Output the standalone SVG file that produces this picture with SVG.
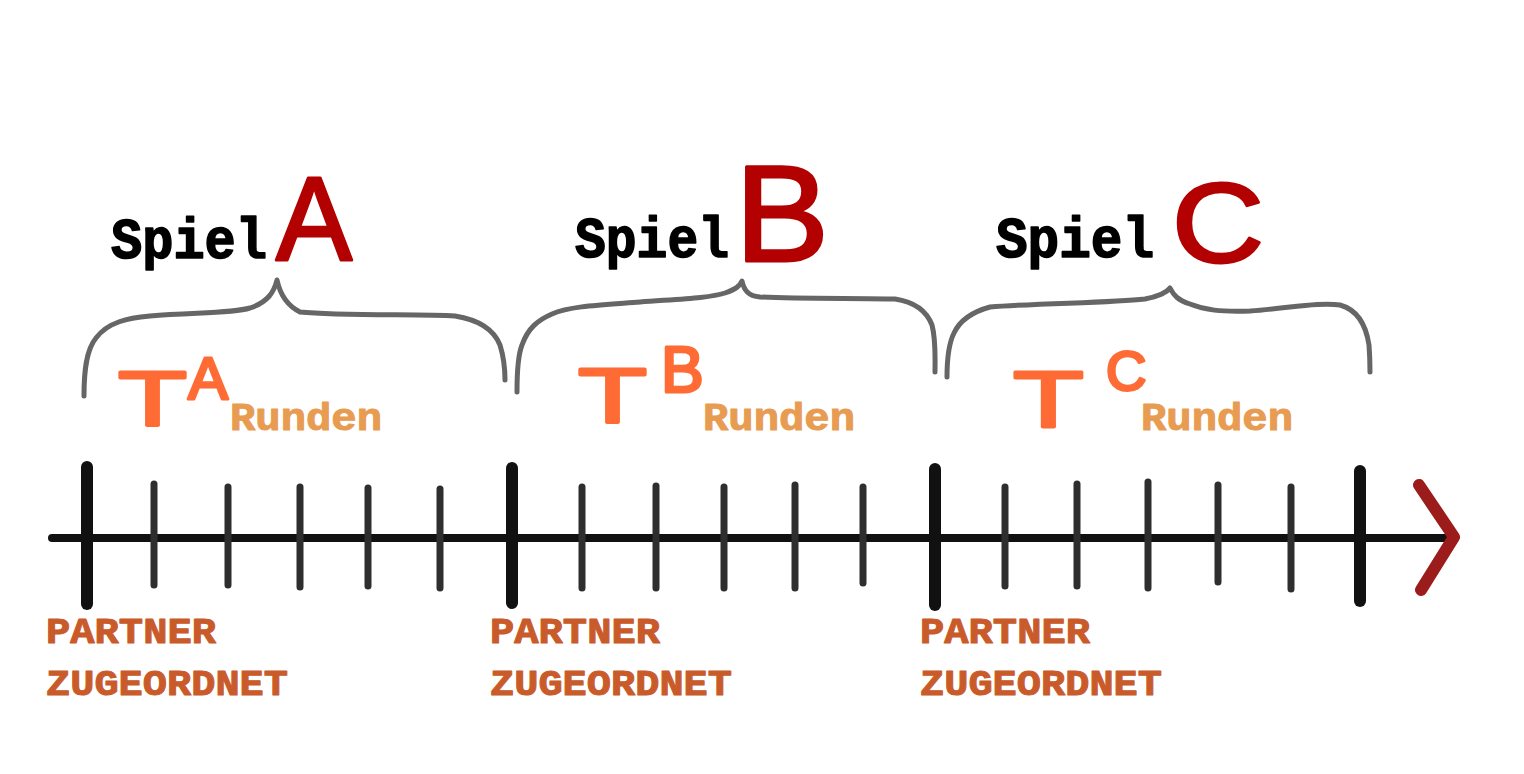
<svg xmlns="http://www.w3.org/2000/svg" width="1524" height="774" viewBox="0 0 1524 774">
<style>
.bg{fill:#ffffff}
.axis{stroke:#111;stroke-width:8;stroke-linecap:round;fill:none}
.major{stroke:#111;stroke-width:12;stroke-linecap:round}
.minor{stroke:#2e2e2e;stroke-width:7;stroke-linecap:round}
.arrow{stroke:#9c1b1b;stroke-width:12;stroke-linecap:round;stroke-linejoin:round;fill:none}
.brace{stroke:#666;stroke-width:5;stroke-linecap:round;stroke-linejoin:round;fill:none}
.spiel{font-family:"Liberation Mono","DejaVu Sans Mono",monospace;font-weight:bold;font-size:58px;fill:#000;stroke:#000;stroke-width:1.6;stroke-linejoin:round}
.big{font-family:"Liberation Sans","DejaVu Sans",sans-serif;fill:#b30000;stroke:#b30000;stroke-width:3;stroke-linejoin:round}
.t{font-family:"Liberation Sans","DejaVu Sans",sans-serif;fill:#ff6b35;stroke:#ff6b35;stroke-width:3;stroke-linejoin:round}
.runden{font-family:"Liberation Mono","DejaVu Sans Mono",monospace;font-weight:bold;font-size:38px;fill:#e89c52;stroke:#e89c52;stroke-width:1;stroke-linejoin:round}
.partner{font-family:"Liberation Mono","DejaVu Sans Mono",monospace;font-weight:bold;font-size:36px;fill:#c95b2b;stroke:#c95b2b;stroke-width:1;stroke-linejoin:round}
</style>
<rect class="bg" x="0" y="0" width="1524" height="774"/>

<g id="connectors">
  <line class="axis" x1="52" y1="538" x2="1448" y2="538"/>
  <polyline id="arrowhead" class="arrow" points="1419,485 1454,537 1421,590"/>
</g>

<g id="ticks">
  <line class="major" x1="87" y1="467" x2="87" y2="604"/>
  <line class="major" x1="512" y1="468" x2="512" y2="603"/>
  <line class="major" x1="935" y1="469" x2="935" y2="605"/>
  <line class="major" x1="1360" y1="471" x2="1360" y2="601"/>
  <line class="minor" x1="154" y1="484" x2="154" y2="585"/>
  <line class="minor" x1="228" y1="487" x2="228" y2="585"/>
  <line class="minor" x1="300" y1="487" x2="300" y2="587"/>
  <line class="minor" x1="368" y1="488" x2="368" y2="586"/>
  <line class="minor" x1="440" y1="489" x2="440" y2="588"/>
  <line class="minor" x1="582" y1="487" x2="582" y2="588"/>
  <line class="minor" x1="656" y1="486" x2="656" y2="588"/>
  <line class="minor" x1="724" y1="487" x2="724" y2="588"/>
  <line class="minor" x1="795" y1="485" x2="795" y2="588"/>
  <line class="minor" x1="863" y1="487" x2="863" y2="583"/>
  <line class="minor" x1="1005" y1="487" x2="1005" y2="586"/>
  <line class="minor" x1="1077" y1="484" x2="1077" y2="586"/>
  <line class="minor" x1="1148" y1="482" x2="1148" y2="588"/>
  <line class="minor" x1="1218" y1="485" x2="1218" y2="582"/>
  <line class="minor" x1="1291" y1="487" x2="1291" y2="589"/>
</g>

<g id="spiel-a">
  <text class="spiel" x="111" y="258" textLength="156" lengthAdjust="spacingAndGlyphs">Spiel</text>
  <text class="big" x="276" y="260" font-size="118" textLength="76" lengthAdjust="spacingAndGlyphs">A</text>
  <path class="brace" d="M84,396 C84,372 86,350 96,338 C108,322 128,318 150,316 C190,312 230,314 250,308 C268,302 274,292 277,280 C280,294 288,306 300,312 C340,316 420,314 455,316 C480,320 494,330 500,345 C504,358 505,370 505,380"/>
  <text class="t" x="118" y="426" font-size="78" transform="translate(118 0) scale(1.45 1) translate(-118 0)">T</text>
  <text class="t" x="188" y="399" font-size="60">A</text>
  <text class="runden" x="230" y="430" textLength="152" lengthAdjust="spacingAndGlyphs">Runden</text>
  <text class="partner" x="46" y="643" textLength="170" lengthAdjust="spacingAndGlyphs">PARTNER</text>
  <text class="partner" x="46" y="695" textLength="242" lengthAdjust="spacingAndGlyphs">ZUGEORDNET</text>
</g>

<g id="spiel-b">
  <text class="spiel" x="575" y="257" textLength="154" lengthAdjust="spacingAndGlyphs">Spiel</text>
  <text class="big" x="735" y="261" font-size="138" textLength="94" lengthAdjust="spacingAndGlyphs">B</text>
  <path class="brace" d="M517,392 C517,372 518,355 522,345 C528,328 538,320 552,314 C570,306 600,305 640,302 C680,299 710,298 725,293 C736,289 740,286 742,281 C744,290 748,296 760,297 C800,299 860,298 895,299 C915,302 927,312 932,325 C936,340 935,360 935,372"/>
  <text class="t" x="578" y="423" font-size="78" transform="translate(578 0) scale(1.45 1) translate(-578 0)">T</text>
  <text class="t" x="661" y="392" font-size="64">B</text>
  <text class="runden" x="703" y="430" textLength="152" lengthAdjust="spacingAndGlyphs">Runden</text>
  <text class="partner" x="490" y="643" textLength="170" lengthAdjust="spacingAndGlyphs">PARTNER</text>
  <text class="partner" x="490" y="695" textLength="242" lengthAdjust="spacingAndGlyphs">ZUGEORDNET</text>
</g>

<g id="spiel-c">
  <text class="spiel" x="996" y="257" textLength="158" lengthAdjust="spacingAndGlyphs">Spiel</text>
  <text class="big" x="1172" y="262" font-size="114" textLength="92" lengthAdjust="spacingAndGlyphs">C</text>
  <path class="brace" d="M947,377 C947,360 948,345 954,333 C960,320 972,312 990,307 C1040,303 1110,303 1145,299 C1160,296 1167,292 1170,288 C1174,296 1178,300 1190,304 C1205,310 1220,312 1250,311 C1290,308 1320,302 1340,305 C1358,310 1366,325 1369,345 C1370,358 1370,366 1370,372"/>
  <text class="t" x="1013" y="427" font-size="80" transform="translate(1013 0) scale(1.45 1) translate(-1013 0)">T</text>
  <text class="t" x="1106" y="390" font-size="56">C</text>
  <text class="runden" x="1141" y="430" textLength="152" lengthAdjust="spacingAndGlyphs">Runden</text>
  <text class="partner" x="920" y="643" textLength="170" lengthAdjust="spacingAndGlyphs">PARTNER</text>
  <text class="partner" x="920" y="695" textLength="242" lengthAdjust="spacingAndGlyphs">ZUGEORDNET</text>
</g>
</svg>
